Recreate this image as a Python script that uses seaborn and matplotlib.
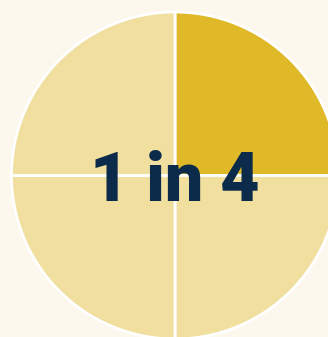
import matplotlib
matplotlib.use("Agg")
import matplotlib.pyplot as plt
import seaborn as sns

sns.set_theme(style="white")

categories = ["Affected", "Other 1", "Other 2", "Other 3"]
values = [1, 1, 1, 1]
label_text = "1 in 4"

colors = ["#dfb927", "#f0df9e", "#f0df9e", "#f0df9e"]
bg = "#fdf8ee"

W, H = 328, 337
fig = plt.figure(figsize=(W / 100, H / 100), dpi=100, facecolor=bg)
ax = fig.add_axes([0, 0, 1, 1])
ax.set_facecolor(bg)

cx, cy, r = 175.0, 175.5, 163.5
ax.pie(values, colors=colors, startangle=90, counterclock=False, radius=1,
       wedgeprops=dict(edgecolor="white", linewidth=2))
ax.set_xlim(-cx / r, (W - cx) / r)
ax.set_ylim(-(H - cy) / r, cy / r)
ax.set_aspect("auto")
ax.axis("off")

ax.text(0, -0.04, label_text, ha="center", va="center", fontsize=49,
        fontweight="black", family=["Roboto", "DejaVu Sans"], color="#0c2a4a")

fig.savefig("out.png", dpi=100, facecolor=bg)
